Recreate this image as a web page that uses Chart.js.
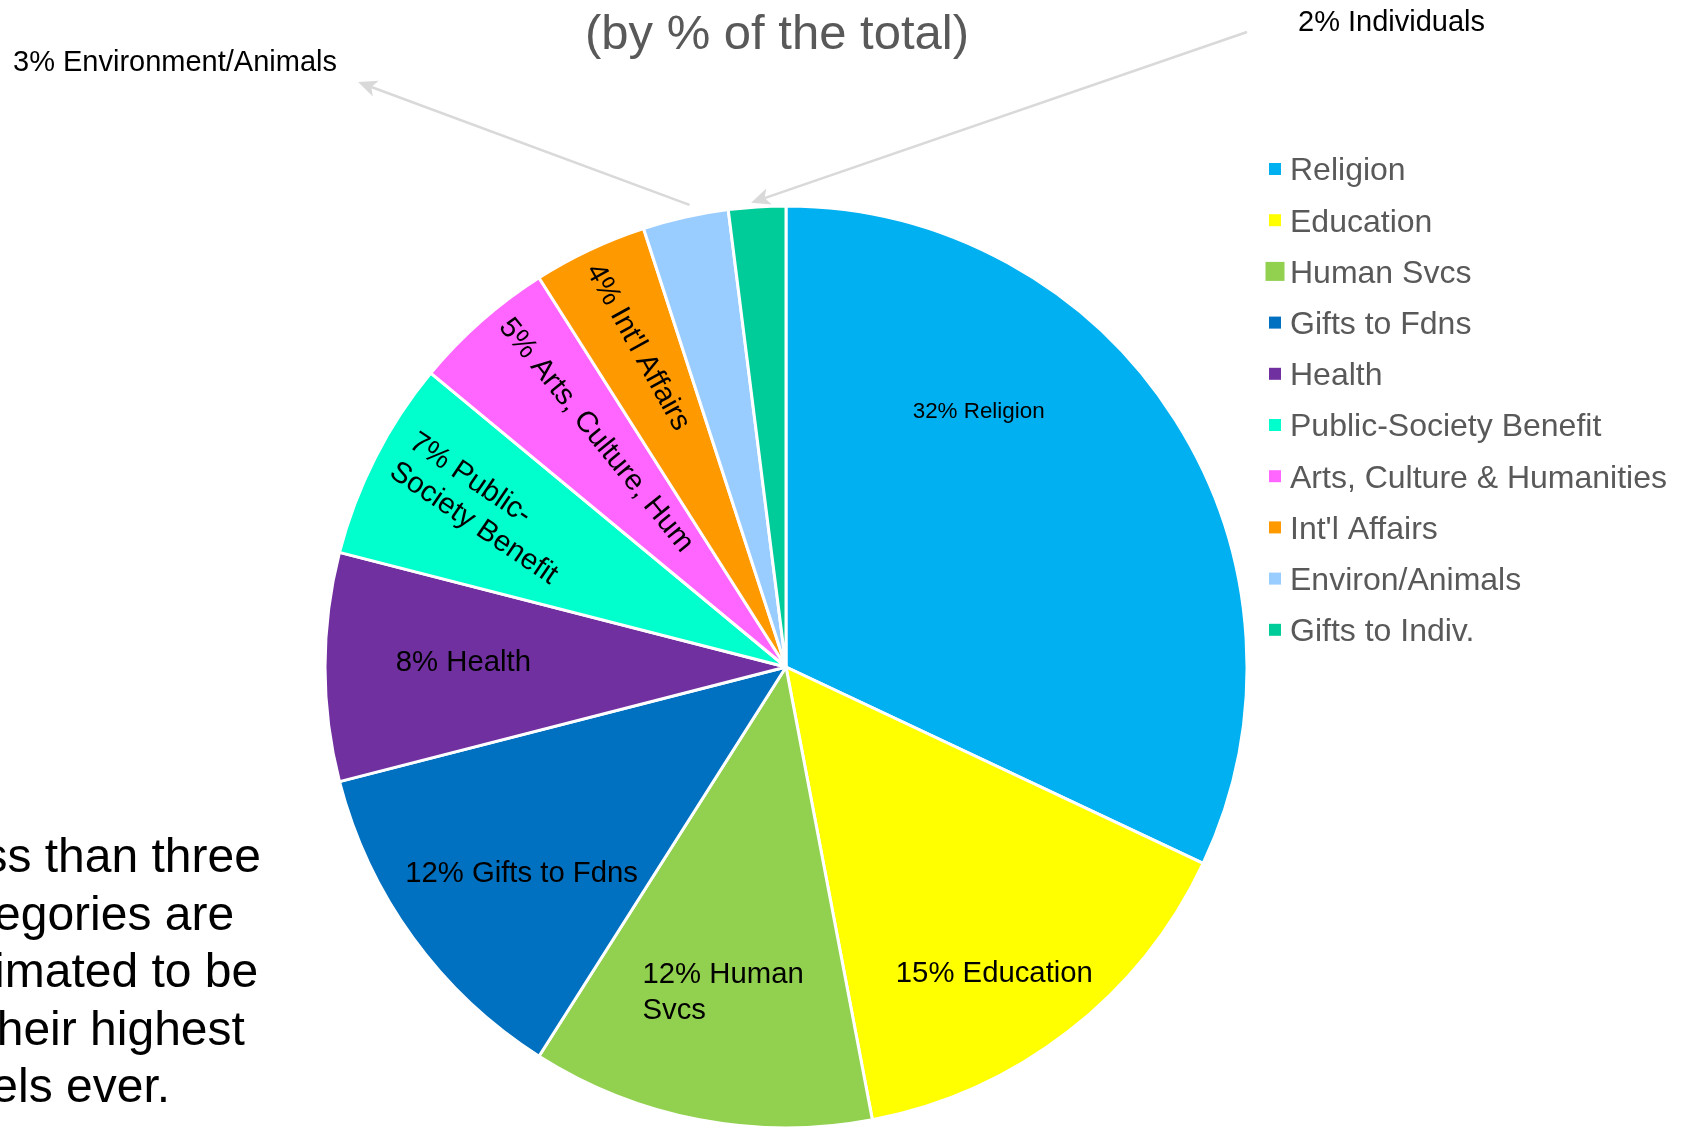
<!DOCTYPE html>
<html>
<head>
<meta charset="utf-8">
<script src="https://cdn.jsdelivr.net/npm/chart.js@4.4.0/dist/chart.umd.min.js"></script>
<style>
  html, body { margin: 0; padding: 0; background: #ffffff; overflow: hidden; }
  #pie { display: block; }
</style>
</head>
<body>
<canvas id="pie" width="1683" height="1128"></canvas>
<script>
const FONT = '"Liberation Sans", Arial, Helvetica, sans-serif';

// legend names
const categories = [
  "Religion", "Education", "Human Svcs", "Gifts to Fdns", "Health",
  "Public-Society Benefit", "Arts, Culture & Humanities", "Int'l Affairs",
  "Environ/Animals", "Gifts to Indiv."
];
// share of total giving, percent
const shares = [32, 15, 12, 12, 8, 7, 5, 4, 3, 2];
// shorter names used on the slices and callouts
const sliceNames = [
  "Religion", "Education", "Human Svcs", "Gifts to Fdns", "Health",
  "Public-Society Benefit", "Arts, Culture, Hum", "Int'l Affairs",
  "Environment/Animals", "Individuals"
];
const pieColors = [
  "#00B0F0", "#FFFF00", "#92D050", "#0070C0", "#7030A0",
  "#00FFCC", "#FF66FF", "#FF9900", "#99CCFF", "#00CC99"
];
const titleText = "(by % of the total)";
const noteLines = ["Less than three", "categories are", "estimated to be", "at their highest", "levels ever."];

// in-slice label placement: angle offset from slice middle (deg), distance (part of radius),
// text rotation (deg), font size, wrap width
const labelSpots = [
  { da: -20.7, r: 0.696, rot: 0, size: 22.4 },
  { da: 3.4, r: 0.80, rot: 0, size: 29.3 },
  { da: 0.2, r: 0.715, rot: 0, size: 29.3, wrap: 175 },
  { da: -1.7, r: 0.725, rot: 0, size: 29.3 },
  { da: 1.2, r: 0.70, rot: 0, size: 29.3 },
  { da: 1.0, r: 0.74, rot: 34, size: 29.3, wrap: 200 },
  { da: 2.5, r: 0.65, rot: 51, size: 29.3 },
  { da: 0.7, r: 0.765, rot: 61, size: 29.3 },
  null,
  null
];

// the two thin slices get labels outside with arrows
const callouts = [
  { index: 8, textX: 13, textY: 71, far: { x: 358, y: 82 }, r: 1.024, da: 0.8, headAtText: true },
  { index: 9, textX: 1298, textY: 31, far: { x: 1247, y: 32 }, r: 1.01, da: -0.7, headAtText: false }
];

const legendMarkers = [12, 12, 19, 12, 12, 12, 12, 12, 12, 12];

const deg = Math.PI / 180;

function wrapText(ctx, text, maxW) {
  if (!maxW) return [text];
  const tokens = text.split(/(?<=[- ])/);
  const lines = [];
  let line = "";
  for (const tok of tokens) {
    const test = line + tok;
    if (line && ctx.measureText(test.trimEnd()).width > maxW) {
      lines.push(line.trimEnd());
      line = tok;
    } else {
      line = test;
    }
  }
  if (line) lines.push(line.trimEnd());
  return lines;
}

function arrow(ctx, x1, y1, x2, y2) {
  // line from (x1,y1), head at (x2,y2)
  const a = Math.atan2(y2 - y1, x2 - x1);
  const len = 19, half = 8.5;
  const cos = Math.cos(a), sin = Math.sin(a);
  ctx.save();
  ctx.strokeStyle = "#D9D9D9";
  ctx.fillStyle = "#D9D9D9";
  ctx.lineWidth = 2.5;
  ctx.beginPath();
  ctx.moveTo(x1, y1);
  ctx.lineTo(x2 - cos * len * 0.75, y2 - sin * len * 0.75);
  ctx.stroke();
  ctx.beginPath();
  ctx.moveTo(x2, y2);
  ctx.lineTo(x2 - cos * len - sin * half, y2 - sin * len + cos * half);
  ctx.lineTo(x2 - cos * len * 0.75, y2 - sin * len * 0.75);
  ctx.lineTo(x2 - cos * len + sin * half, y2 - sin * len - cos * half);
  ctx.closePath();
  ctx.fill();
  ctx.restore();
}

const sliceText = {
  id: "sliceText",
  afterDatasetsDraw(chart) {
    const ctx = chart.ctx;
    const arcs = chart.getDatasetMeta(0).data;
    ctx.save();
    ctx.fillStyle = "#000000";
    ctx.textAlign = "left";
    ctx.textBaseline = "alphabetic";
    arcs.forEach((arc, i) => {
      const spot = labelSpots[i];
      if (!spot) return;
      const p = arc.getProps(["x", "y", "startAngle", "endAngle", "outerRadius"], true);
      const mid = (p.startAngle + p.endAngle) / 2 + spot.da * deg;
      const cx = p.x + Math.cos(mid) * p.outerRadius * spot.r;
      const cy = p.y + Math.sin(mid) * p.outerRadius * spot.r;
      ctx.font = spot.size + "px " + FONT;
      const lines = wrapText(ctx, shares[i] + "% " + sliceNames[i], spot.wrap);
      const blockW = Math.max(...lines.map(l => ctx.measureText(l).width));
      const lh = spot.size * 1.2;
      ctx.save();
      ctx.translate(cx, cy);
      ctx.rotate(spot.rot * deg);
      lines.forEach((l, k) => {
        const yc = (k - (lines.length - 1) / 2) * lh;
        ctx.fillText(l, -blockW / 2, yc + spot.size * 0.358);
      });
      ctx.restore();
    });

    // outside callouts
    ctx.font = "29px " + FONT;
    callouts.forEach(c => {
      const p = arcs[c.index].getProps(["x", "y", "startAngle", "endAngle", "outerRadius"], true);
      const mid = (p.startAngle + p.endAngle) / 2 + c.da * deg;
      const ex = p.x + Math.cos(mid) * p.outerRadius * c.r;
      const ey = p.y + Math.sin(mid) * p.outerRadius * c.r;
      if (c.headAtText) arrow(ctx, ex, ey, c.far.x, c.far.y);
      else arrow(ctx, c.far.x, c.far.y, ex, ey);
      ctx.fillStyle = "#000000";
      ctx.fillText(shares[c.index] + "% " + sliceNames[c.index], c.textX, c.textY);
    });
    ctx.restore();
  },
  afterDraw(chart) {
    const ctx = chart.ctx;
    ctx.save();
    // title
    ctx.fillStyle = "#595959";
    ctx.font = "49px " + FONT;
    ctx.textAlign = "center";
    ctx.textBaseline = "alphabetic";
    ctx.fillText(titleText, 777, 49);

    // legend
    ctx.font = "32px " + FONT;
    ctx.textAlign = "left";
    categories.forEach((name, i) => {
      const yc = 169 + i * 51.2;
      const s = legendMarkers[i];
      ctx.fillStyle = pieColors[i];
      ctx.fillRect(1275 - s / 2, yc - s / 2, s, s);
      ctx.fillStyle = "#595959";
      ctx.fillText(name, 1290, yc + 32 * 0.358);
    });

    // side note
    ctx.fillStyle = "#000000";
    ctx.font = "48px " + FONT;
    noteLines.forEach((l, i) => {
      ctx.fillText(l, -70, 872 + i * 57.6);
    });
    ctx.restore();
  }
};

const myChart = new Chart(document.getElementById("pie"), {
  type: "pie",
  data: {
    labels: categories,
    datasets: [{
      data: shares,
      backgroundColor: pieColors,
      borderColor: "#ffffff",
      borderWidth: 3,
      hoverOffset: 0
    }]
  },
  options: {
    responsive: false,
    animation: false,
    events: [],
    radius: 461,
    layout: { padding: { left: 326, top: 207, right: 437, bottom: 1 } },
    plugins: {
      legend: { display: false },
      tooltip: { enabled: false },
      title: { display: false }
    }
  },
  plugins: [sliceText]
});
</script>
</body>
</html>
